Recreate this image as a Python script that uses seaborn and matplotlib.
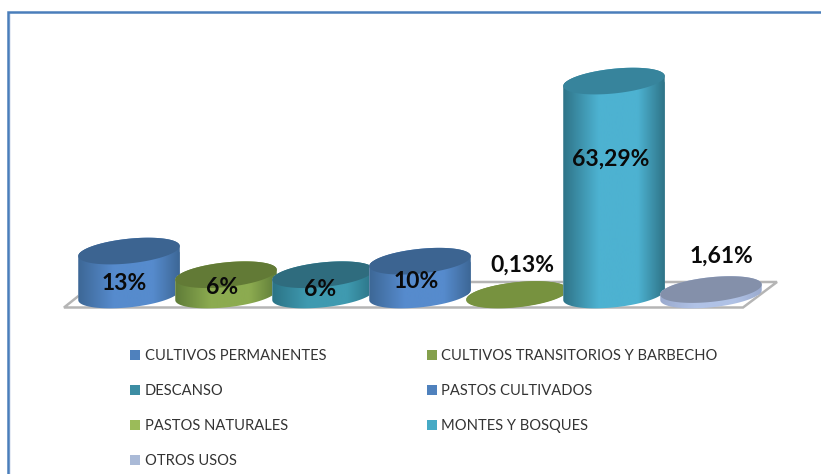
import numpy as np
import matplotlib
matplotlib.use("Agg")
import matplotlib.pyplot as plt
from matplotlib.path import Path
from matplotlib.patches import PathPatch, Patch, Polygon
from matplotlib.lines import Line2D
from matplotlib.colors import LinearSegmentedColormap
from matplotlib.transforms import IdentityTransform
import seaborn as sns

categories = ["CULTIVOS PERMANENTES", "CULTIVOS TRANSITORIOS Y BARBECHO", "DESCANSO",
              "PASTOS CULTIVADOS", "PASTOS NATURALES", "MONTES Y BOSQUES", "OTROS USOS"]
values = [13, 6, 6, 10, 0.13, 63.29, 1.61]
value_labels = ["13%", "6%", "6%", "10%", "0,13%", "63,29%", "1,61%"]
legend_colors = ["#4f81bd", "#84a04c", "#3c8da3", "#4f81bd", "#9bbb59", "#46aac5", "#aabad7"]
top_colors = ["#3c6491", "#627a36", "#2f6c7e", "#3c6491", "#77923f", "#37849c", "#8490aa"]
edge_colors = ["#3d6796", "#5f7c38", "#2b7386", "#3d6796", "#77923f", "#2f7488", "#9aaace"]
mid_colors = ["#568bcd", "#8cab50", "#3f9ab0", "#568bcd", "#77923f", "#4db2d1", "#b0c2e6"]

W, H = 821, 474
sns.set_theme(style="white")
plt.rcParams["font.family"] = ["Lato", "DejaVu Sans"]
fig = plt.figure(figsize=(W / 100, H / 100), dpi=100, facecolor="white")
ax = fig.add_axes([0, 0, 1, 1])

X0, DX, Y0, SY = 129.0, 97.0, 179.0, 3.38   # px of category 0, px per category, px(up) of 0, px per %
xlim = (-X0 / DX, (W - X0) / DX)
ylim = (-Y0 / SY, (H - Y0) / SY)


def to_data(px, py):
    return (px - X0) / DX, (H - py - Y0) / SY


sns.barplot(x=categories, y=values, hue=categories, palette=edge_colors, width=1.05,
            dodge=False, legend=False, saturation=1, ax=ax)
ax.set_xlim(xlim)
ax.set_ylim(ylim)
ax.axis("off")

# floor of the 3D chart
floor = [(64, 307.5), (743, 307.5), (777, 282), (96, 282)]
ax.add_patch(Polygon([to_data(*p) for p in floor], closed=True, facecolor="white",
                     edgecolor="#b5b5b5", linewidth=1.8, zorder=1))

A, B, THETA = 51.0, 12.3, np.radians(6)


def ellipse(cx, cy, t):
    return (cx + A * np.cos(t) * np.cos(THETA) - B * np.sin(t) * np.sin(THETA),
            cy + A * np.cos(t) * np.sin(THETA) + B * np.sin(t) * np.cos(THETA))


t0 = np.arctan(-(B / A) * np.tan(THETA))
upper = np.linspace(t0, t0 + np.pi, 60)
lower = np.linspace(t0 + np.pi, t0 + 2 * np.pi, 60)
fig.canvas.draw()

for i, bar in enumerate(ax.patches[:len(values)]):
    z = 3 + i
    cx, base = ax.transData.transform((bar.get_x() + bar.get_width() / 2, 0))
    _, top = ax.transData.transform((0, bar.get_height()))
    tx, ty = ellipse(cx, top, upper)
    bx, by = ellipse(cx, base, lower)
    outline = Path(np.column_stack([np.r_[tx, bx, tx[0]], np.r_[ty, by, ty[0]]]), closed=True)
    bar.set_clip_path(outline, IdentityTransform())
    bar.set_zorder(z)
    cmap = LinearSegmentedColormap.from_list(
        "c", [edge_colors[i], mid_colors[i], mid_colors[i], edge_colors[i]])
    grad = np.interp(np.linspace(0, 1, 200), [0, .5, .62, 1], [0, .48, .52, 1]).reshape(1, -1)
    im = ax.imshow(grad, cmap=cmap, aspect="auto", zorder=z,
                   extent=(bar.get_x(), bar.get_x() + bar.get_width(), ylim[0], ylim[1]))
    im.set_clip_path(outline, IdentityTransform())
    t = np.linspace(0, 2 * np.pi, 120)
    ex, ey = ellipse(cx, top, t)
    ax.add_patch(PathPatch(Path(np.column_stack([ex, ey]), closed=True), facecolor=top_colors[i],
                           edgecolor="none", transform=IdentityTransform(), zorder=z))
ax.set_xlim(xlim)
ax.set_ylim(ylim)

label_px = [(124, 284), (222, 288), (320, 290), (416, 281), (522, 265.5), (611, 159), (721, 256.5)]
for s, (px, py) in zip(value_labels, label_px):
    x, y = to_data(px, py)
    ax.text(x, y, s, ha="center", va="center", fontsize=16.5, fontweight="bold",
            color="#0a0a0a", zorder=20)

order = [0, 2, 4, 6, 1, 3, 5]
handles = [Patch(facecolor=legend_colors[i], edgecolor="none") for i in order]
ax.legend(handles, [categories[i] for i in order], ncol=2, frameon=False, fontsize=10.6,
          loc="upper left", bbox_to_anchor=(126 / W, 1 - 345 / H), borderaxespad=0, borderpad=0.3,
          handlelength=0.68, handleheight=0.68, handletextpad=0.28, labelspacing=1.42,
          columnspacing=6.87, labelcolor="#333333")

border = "#4a7ebb"
fig.add_artist(Line2D([10.3 / W, 10.3 / W], [0, 1 - 14 / H], color="#e3e9f3", lw=1.2))
fig.add_artist(Line2D([8 / W, 8 / W, 1], [0, 1 - 12 / H, 1 - 12 / H],
                      color=border, lw=1.8, solid_joinstyle="miter"))
fig.savefig("out.png", dpi=100, facecolor="white")
